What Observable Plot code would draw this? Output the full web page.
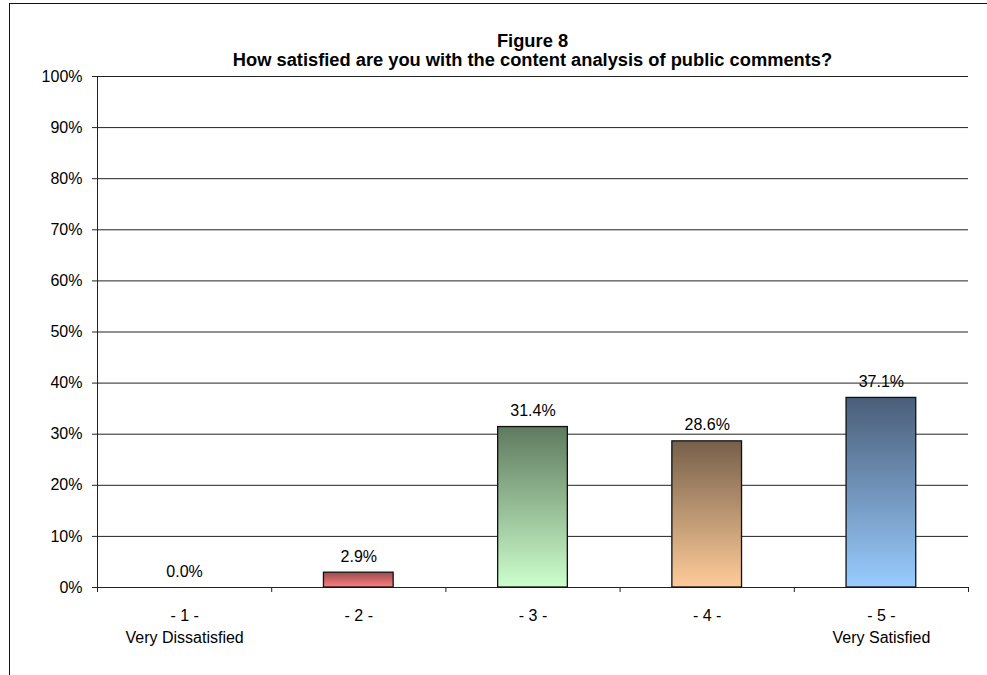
<!DOCTYPE html>
<html>
<head>
<meta charset="utf-8">
<script src="https://cdn.jsdelivr.net/npm/d3@7"></script>
<script src="https://cdn.jsdelivr.net/npm/@observablehq/plot@0.6"></script>
<style>
  html, body { margin: 0; padding: 0; background: #fff; }
  #wrap { position: relative; width: 987px; height: 675px; overflow: hidden; background: #fff;
          font-family: "Liberation Sans", Arial, sans-serif; }
  #frame { position: absolute; left: 9px; top: 3px; width: 1000px; height: 700px;
           border-left: 1.5px solid #111; border-top: 1.5px solid #111; }
  #title { position: absolute; left: 97px; width: 871px; top: 31px; text-align: center;
           font-weight: bold; font-size: 18.3px; line-height: 19px; color: #000; }
  #chart { position: absolute; left: 0; top: 0; }
</style>
</head>
<body>
<div id="wrap">
  <div id="frame"></div>
  <div id="chart"></div>
  <div id="title">Figure 8<br>How satisfied are you with the content analysis of public comments?</div>
</div>
<script>
// ---- data ----
const categories = ["- 1 -", "- 2 -", "- 3 -", "- 4 -", "- 5 -"];
const categorySubLabels = ["Very Dissatisfied", "", "", "", "Very Satisfied"];
const values = [0.0, 2.9, 31.4, 28.6, 37.1];
const yTicks = [0, 0.1, 0.2, 0.3, 0.4, 0.5, 0.6, 0.7, 0.8, 0.9, 1.0];

// ---- styles (gradient top / bottom colours per category) ----
const gradTop = ["#994d4d", "#994d4d", "#5f7a5f", "#76604a", "#4a5e78"];
const gradBottom = ["#ff8080", "#ff8080", "#ccffcc", "#ffcc99", "#99ccff"];

const data = categories.map((c, i) => ({
  cat: c, pos: i + 1, value: values[i] / 100, label: values[i].toFixed(1) + "%",
  fill: `url(#grad${i})`
}));
const boundaries = [0.5, 1.5, 2.5, 3.5, 4.5, 5.5];
const labelFor = new Map(data.map((d, i) => [d.pos, categorySubLabels[i] ? d.cat + "\n" + categorySubLabels[i] : d.cat]));

const ink = "#222";

const chart = Plot.plot({
  width: 987,
  height: 675,
  marginLeft: 97,
  marginRight: 19,
  marginTop: 76,
  marginBottom: 88,
  style: { fontFamily: "'Liberation Sans', Arial, sans-serif", fontSize: "16px", color: "#000", background: "transparent" },
  x: { domain: [0.5, 5.5], axis: null, label: null },
  y: { domain: [0, 1], axis: null, label: null },
  color: { type: "identity" },
  marks: [
    Plot.ruleY(yTicks.filter(t => t > 0), { stroke: ink, strokeWidth: 1 }),
    Plot.ruleY([0], { stroke: ink, strokeWidth: 1 }),
    Plot.ruleX([0.5], { stroke: ink, strokeWidth: 1 }),
    Plot.axisY({ ticks: yTicks, tickSize: 5, tickPadding: 10, tickFormat: d3.format(".0%"), stroke: ink, fontSize: 16, label: null }),
    Plot.axisX({ ticks: boundaries, tickSize: 5, tickFormat: () => "", stroke: ink, label: null }),
    Plot.axisX({ ticks: data.map(d => d.pos), tickSize: 0, tickPadding: 18, lineHeight: 1.375,
                 tickFormat: p => labelFor.get(p), fontSize: 16, label: null }),
    Plot.rectY(data.filter(d => d.value > 0), {
      x1: d => d.pos - 0.2, x2: d => d.pos + 0.2, y1: 0, y2: "value",
      fill: "fill", stroke: "#111", strokeWidth: 1.3
    }),
    Plot.text(data, { x: "pos", y: "value", text: "label", dy: -16, fontSize: 16, fill: "#000" })
  ]
});

const svg = d3.select(chart);
const defs = svg.insert("defs", ":first-child");
gradTop.forEach((top, i) => {
  const g = defs.append("linearGradient").attr("id", `grad${i}`)
    .attr("x1", 0).attr("y1", 0).attr("x2", 0).attr("y2", 1);
  g.append("stop").attr("offset", "0%").attr("stop-color", top);
  g.append("stop").attr("offset", "100%").attr("stop-color", gradBottom[i]);
});

document.getElementById("chart").appendChild(chart);
</script>
</body>
</html>
